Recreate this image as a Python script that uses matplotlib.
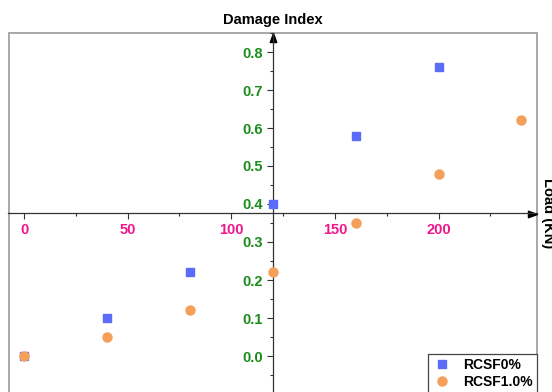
import matplotlib
matplotlib.use("Agg")
import matplotlib.pyplot as plt
from matplotlib.patches import Rectangle
from matplotlib.path import Path
from matplotlib.ticker import MultipleLocator

plt.rcParams['font.family'] = ['Liberation Sans', 'DejaVu Sans']

# Load (KN) vs damage index for the two mixes
load_0 = [0, 40, 80, 120, 160, 200]
damage_0 = [0.0, 0.10, 0.22, 0.40, 0.58, 0.76]
load_1 = [0, 40, 80, 120, 160, 200, 240]
damage_1 = [0.0, 0.05, 0.12, 0.22, 0.35, 0.48, 0.62]
series_names = ["RCSF0%", "RCSF1.0%"]
x_ticks = [0, 50, 100, 150, 200]
y_ticks = [0.0, 0.1, 0.2, 0.3, 0.4, 0.5, 0.6, 0.7, 0.8]

blue = "#5a6cf8"
orange = "#f5a05a"
pink = "#f0168c"
green = "#1a8c1a"

fig = plt.figure(figsize=(5.52, 3.92), dpi=100)
ax = fig.add_axes([8.5 / 552, 1 - 394 / 392, 528.5 / 552, 361 / 392])

ax.set_xlim(-7.5, 247.5)
ax.set_ylim(-0.1, 0.85)

# Axes crossing inside the plot
ax.spines['left'].set_position(('data', 120))
ax.spines['bottom'].set_position(('data', 0.375))
ax.spines['top'].set_visible(False)
ax.spines['right'].set_visible(False)
for s in ('left', 'bottom'):
    ax.spines[s].set_color('#333333')
    ax.spines[s].set_linewidth(0.9)

# Gray outer frame
ax.add_patch(Rectangle((0, 0), 1, 1, transform=ax.transAxes, fill=False,
                       edgecolor='#999999', linewidth=1.2, clip_on=False, zorder=0))

# Arrow heads with the tip on the end of each axis line
right_head = Path([(0, 0), (-1.0, 0.36), (-1.0, -0.36), (0, 0)])
up_head = Path([(0, 0), (0.36, -1.0), (-0.36, -1.0), (0, 0)])
ax.plot(120, 1, marker=up_head, color='black', markersize=13,
        transform=ax.get_xaxis_transform(), clip_on=False)
ax.plot(1, 0.375, marker=right_head, color='black', markersize=13,
        transform=ax.get_yaxis_transform(), clip_on=False)

ax.set_xticks(x_ticks)
ax.set_yticks(y_ticks)
ax.xaxis.set_minor_locator(MultipleLocator(25))
ax.yaxis.set_minor_locator(MultipleLocator(0.05))
ax.set_xticklabels([str(v) for v in x_ticks], color=pink, fontweight='bold', fontsize=10.5)
ax.set_yticklabels([f"{v:.1f}" for v in y_ticks], color=green, fontweight='bold', fontsize=10.5)
ax.tick_params(axis='both', which='major', length=4, width=0.8, color='#333333', pad=3)
ax.tick_params(axis='both', which='minor', length=2.5, width=0.8, color='#333333')

ax.plot(load_0, damage_0, linestyle='none', marker='s', markersize=5.8,
        color=blue, label=series_names[0], zorder=3)
ax.plot(load_1, damage_1, linestyle='none', marker='o', markersize=6.5,
        color=orange, label=series_names[1], zorder=3)

ax.set_title("Damage Index", fontweight='bold', fontsize=10.5, pad=6.5)
ax.annotate("Load (KN)", xy=(1, 0.375), xycoords=ax.get_yaxis_transform(),
            xytext=(8, 0), textcoords='offset points', rotation=-90,
            ha='center', va='center', fontweight='bold', fontsize=10.5,
            annotation_clip=False)

leg = ax.legend(loc='upper right', bbox_to_anchor=(1.0, 40 / 361),
                borderaxespad=0, fancybox=False, framealpha=1,
                edgecolor='#444444', prop={'weight': 'bold', 'size': 10},
                handlelength=1.4, handletextpad=0.8, borderpad=0.3,
                labelspacing=0.2)
leg.get_frame().set_linewidth(0.9)

fig.savefig("out.png", dpi=100)
